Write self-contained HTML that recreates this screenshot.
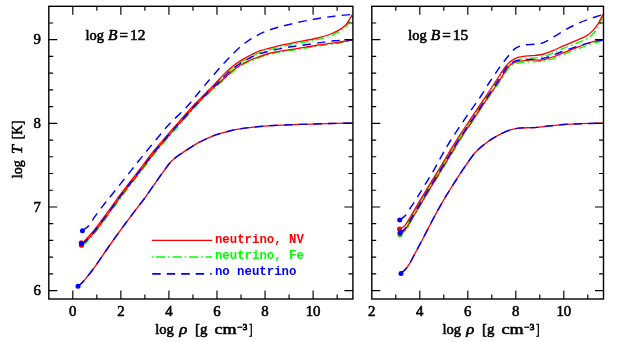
<!DOCTYPE html>
<html><head><meta charset="utf-8"><title>chart</title>
<style>
html,body{margin:0;padding:0;background:#fff;}
body{width:623px;height:342px;position:relative;overflow:hidden;}
svg{display:block;will-change:transform;}
text{font-family:"Liberation Serif",serif;}
text.s{fill:#000;stroke:#000;stroke-width:0.55px;}
text.sb{stroke-width:0.8px;}
text.m{font-family:"Liberation Mono",monospace;font-weight:bold;}
text.r{fill:#f00;} text.g{fill:#0f0;} text.b{fill:#00f;}
</style></head><body>
<svg width="623" height="342" viewBox="0 0 623 342" style="position:absolute;left:0;top:0">
<defs><clipPath id="c1"><rect x="48.8" y="6.3" width="304.6" height="292.7"/></clipPath><clipPath id="c2"><rect x="371.8" y="6.3" width="232.2" height="292.7"/></clipPath></defs>
<g clip-path="url(#c1)">
<path d="M81.82,244.82 C82.51,244.25 84.12,243.22 85.97,241.37 C87.82,239.52 90.43,236.72 92.92,233.72 C95.41,230.72 97.94,227.29 100.90,223.35 C103.86,219.41 107.64,214.24 110.69,210.06 C113.74,205.88 115.70,202.95 119.20,198.25 C122.70,193.55 127.72,187.05 131.70,181.84 C135.69,176.64 139.35,171.93 143.11,167.04 C146.86,162.16 149.71,158.07 154.22,152.53 C158.72,146.99 165.48,139.18 170.13,133.81 C174.79,128.44 178.00,124.94 182.14,120.30 C186.28,115.66 190.57,110.66 194.95,105.99 C199.34,101.32 204.87,95.89 208.47,92.27 C212.06,88.66 214.05,86.83 216.50,84.30 C218.95,81.77 220.57,79.68 223.15,77.10 C225.73,74.52 229.06,71.25 232.00,68.80 C234.94,66.35 237.87,64.30 240.80,62.40 C243.73,60.50 246.65,58.93 249.60,57.40 C252.55,55.87 255.20,54.45 258.50,53.20 C261.80,51.95 265.15,51.07 269.40,49.90 C273.65,48.73 279.13,47.30 284.00,46.20 C288.87,45.10 293.25,44.33 298.60,43.30 C303.95,42.27 310.88,41.22 316.10,40.00 C321.32,38.78 325.95,37.43 329.90,36.00 C333.85,34.57 337.03,33.03 339.80,31.40 C342.57,29.77 344.83,27.93 346.50,26.20 C348.17,24.47 348.75,22.67 349.80,21.00 C350.85,19.33 352.30,17.00 352.80,16.20" fill="none" stroke="#00ff00" stroke-width="1.3" stroke-dasharray="8 3.3 1.5 3.3" stroke-linecap="butt" stroke-linejoin="round"/>
<path d="M82.58,245.38 C83.29,244.79 84.95,243.71 86.83,241.83 C88.71,239.95 91.37,237.11 93.88,234.08 C96.39,231.05 98.93,227.61 101.90,223.65 C104.87,219.69 108.66,214.53 111.71,210.34 C114.76,206.16 116.70,203.25 120.20,198.55 C123.70,193.85 128.71,187.35 132.70,182.16 C136.68,176.96 140.35,172.24 144.09,167.36 C147.84,162.48 150.69,158.40 155.18,152.87 C159.68,147.35 166.42,139.55 171.07,134.19 C175.71,128.83 178.93,125.33 183.06,120.70 C187.19,116.07 191.47,111.08 195.85,106.41 C200.23,101.75 205.68,96.25 209.33,92.73 C212.99,89.21 215.53,87.30 217.80,85.30 C220.07,83.30 220.62,82.83 222.95,80.70 C225.28,78.57 228.86,74.93 231.80,72.50 C234.74,70.07 237.67,67.93 240.60,66.10 C243.53,64.27 246.45,62.85 249.40,61.50 C252.35,60.15 255.00,59.18 258.30,58.00 C261.60,56.82 264.95,55.48 269.20,54.40 C273.45,53.32 278.93,52.35 283.80,51.50 C288.67,50.65 293.05,50.15 298.40,49.30 C303.75,48.45 309.87,47.32 315.90,46.40 C321.93,45.48 328.48,44.73 334.60,43.80 C340.72,42.87 349.60,41.30 352.60,40.80" fill="none" stroke="#00ff00" stroke-width="1.3" stroke-dasharray="8 3.3 1.5 3.3" stroke-linecap="butt" stroke-linejoin="round"/>
<path d="M81.32,243.32 C82.01,242.75 83.62,241.72 85.47,239.87 C87.32,238.02 89.93,235.22 92.42,232.22 C94.91,229.22 97.44,225.79 100.40,221.85 C103.36,217.91 107.14,212.74 110.19,208.56 C113.24,204.38 115.20,201.45 118.70,196.75 C122.20,192.05 127.22,185.55 131.20,180.34 C135.19,175.14 138.85,170.43 142.61,165.54 C146.36,160.66 149.21,156.57 153.72,151.03 C158.22,145.49 164.98,137.68 169.63,132.31 C174.29,126.94 177.50,123.44 181.64,118.80 C185.78,114.16 190.07,109.16 194.45,104.49 C198.84,99.82 204.37,94.39 207.97,90.77 C211.56,87.16 213.55,85.33 216.00,82.80 C218.45,80.27 220.07,78.18 222.65,75.60 C225.23,73.02 228.56,69.75 231.50,67.30 C234.44,64.85 237.37,62.80 240.30,60.90 C243.23,59.00 246.15,57.43 249.10,55.90 C252.05,54.37 254.70,52.95 258.00,51.70 C261.30,50.45 264.65,49.57 268.90,48.40 C273.15,47.23 278.63,45.80 283.50,44.70 C288.37,43.60 292.75,42.83 298.10,41.80 C303.45,40.77 310.38,39.72 315.60,38.50 C320.82,37.28 325.45,35.93 329.40,34.50 C333.35,33.07 336.53,31.53 339.30,29.90 C342.07,28.27 344.33,26.43 346.00,24.70 C347.67,22.97 348.25,21.17 349.30,19.50 C350.35,17.83 351.80,15.50 352.30,14.70" fill="none" stroke="#ff0000" stroke-width="1.3" stroke-linecap="butt" stroke-linejoin="round"/>
<path d="M82.28,244.48 C82.99,243.89 84.65,242.81 86.53,240.93 C88.41,239.05 91.07,236.21 93.58,233.18 C96.09,230.15 98.63,226.71 101.60,222.75 C104.57,218.79 108.36,213.63 111.41,209.44 C114.46,205.26 116.40,202.35 119.90,197.65 C123.40,192.95 128.41,186.45 132.40,181.26 C136.38,176.06 140.05,171.34 143.79,166.46 C147.54,161.58 150.39,157.50 154.88,151.97 C159.38,146.45 166.12,138.65 170.77,133.29 C175.41,127.93 178.63,124.43 182.76,119.80 C186.89,115.17 191.17,110.18 195.55,105.51 C199.93,100.85 205.38,95.35 209.03,91.83 C212.69,88.31 215.23,86.40 217.50,84.40 C219.77,82.40 220.32,81.93 222.65,79.80 C224.98,77.67 228.56,74.03 231.50,71.60 C234.44,69.17 237.37,67.03 240.30,65.20 C243.23,63.37 246.15,61.95 249.10,60.60 C252.05,59.25 254.70,58.28 258.00,57.10 C261.30,55.92 264.65,54.58 268.90,53.50 C273.15,52.42 278.63,51.45 283.50,50.60 C288.37,49.75 292.75,49.25 298.10,48.40 C303.45,47.55 309.57,46.42 315.60,45.50 C321.63,44.58 328.18,43.83 334.30,42.90 C340.42,41.97 349.30,40.40 352.30,39.90" fill="none" stroke="#ff0000" stroke-width="1.3" stroke-linecap="butt" stroke-linejoin="round"/>
<path d="M81.93,244.05 C82.63,243.47 84.27,242.41 86.14,240.54 C88.01,238.67 90.65,235.85 93.15,232.83 C95.66,229.81 98.19,226.37 101.16,222.42 C104.13,218.47 107.91,213.30 110.96,209.12 C114.01,204.93 115.96,202.02 119.46,197.32 C122.96,192.62 127.98,186.12 131.96,180.92 C135.94,175.72 139.61,171.00 143.36,166.12 C147.11,161.24 149.96,157.16 154.46,151.63 C158.95,146.09 165.70,138.30 170.35,132.93 C175.00,127.57 178.22,124.07 182.35,119.43 C186.48,114.80 190.76,109.80 195.15,105.14 C199.53,100.47 205.00,95.03 208.64,91.44 C212.28,87.85 214.67,85.81 217.00,83.60 C219.33,81.39 220.23,80.50 222.65,78.20 C225.07,75.90 228.56,72.28 231.50,69.80 C234.44,67.32 237.37,65.20 240.30,63.30 C243.23,61.40 246.15,59.90 249.10,58.40 C252.05,56.90 254.70,55.50 258.00,54.30 C261.30,53.10 264.65,52.23 268.90,51.20 C273.15,50.17 278.63,49.00 283.50,48.10 C288.37,47.20 292.75,46.60 298.10,45.80 C303.45,45.00 309.62,44.13 315.60,43.30 C321.58,42.47 327.88,41.37 334.00,40.80 C340.12,40.23 349.25,40.05 352.30,39.90" fill="none" stroke="#0000ff" stroke-width="1.45" stroke-dasharray="8.4 6.2" stroke-linecap="butt" stroke-linejoin="round"/>
<path d="M78.00,286.20 C78.67,285.63 80.66,284.13 82.00,282.80 C83.34,281.47 84.23,280.42 86.05,278.20 C87.87,275.98 91.14,271.82 92.90,269.50 C94.66,267.18 93.77,268.38 96.60,264.30 C99.43,260.22 105.18,251.68 109.90,245.00 C114.62,238.32 120.57,230.10 124.90,224.20 C129.23,218.30 132.52,214.05 135.90,209.60 C139.28,205.15 141.60,202.47 145.20,197.50 C148.80,192.53 153.70,185.17 157.50,179.80 C161.30,174.43 165.62,168.47 168.00,165.30 C170.38,162.13 170.38,162.20 171.80,160.80 C173.22,159.40 174.63,158.30 176.50,156.90 C178.37,155.50 180.75,153.90 183.00,152.40 C185.25,150.90 187.42,149.52 190.00,147.90 C192.58,146.28 194.65,144.70 198.50,142.70 C202.35,140.70 208.68,137.65 213.10,135.90 C217.52,134.15 220.55,133.38 225.00,132.20 C229.45,131.02 233.18,129.82 239.80,128.80 C246.42,127.78 254.75,126.83 264.70,126.10 C274.65,125.37 288.62,124.83 299.50,124.40 C310.38,123.97 321.20,123.72 330.00,123.50 C338.80,123.28 348.58,123.17 352.30,123.10" fill="none" stroke="#ff0000" stroke-width="1.3" stroke-linecap="butt" stroke-linejoin="round"/>
<path d="M78.00,286.20 C78.67,285.63 80.66,284.13 82.00,282.80 C83.34,281.47 84.23,280.42 86.05,278.20 C87.87,275.98 91.14,271.82 92.90,269.50 C94.66,267.18 93.77,268.38 96.60,264.30 C99.43,260.22 105.18,251.68 109.90,245.00 C114.62,238.32 120.57,230.10 124.90,224.20 C129.23,218.30 132.52,214.05 135.90,209.60 C139.28,205.15 141.60,202.47 145.20,197.50 C148.80,192.53 153.70,185.17 157.50,179.80 C161.30,174.43 165.62,168.47 168.00,165.30 C170.38,162.13 170.38,162.20 171.80,160.80 C173.22,159.40 174.63,158.30 176.50,156.90 C178.37,155.50 180.75,153.90 183.00,152.40 C185.25,150.90 187.42,149.52 190.00,147.90 C192.58,146.28 194.65,144.70 198.50,142.70 C202.35,140.70 208.68,137.65 213.10,135.90 C217.52,134.15 220.55,133.38 225.00,132.20 C229.45,131.02 233.18,129.82 239.80,128.80 C246.42,127.78 254.75,126.83 264.70,126.10 C274.65,125.37 288.62,124.83 299.50,124.40 C310.38,123.97 321.20,123.72 330.00,123.50 C338.80,123.28 348.58,123.17 352.30,123.10" fill="none" stroke="#0000ff" stroke-width="1.45" stroke-dasharray="8.4 6.2" stroke-linecap="butt" stroke-linejoin="round"/>
<path d="M82.40,230.60 C83.50,229.77 86.97,227.88 89.00,225.60 C91.03,223.32 91.85,220.75 94.60,216.90 C97.35,213.05 102.67,206.15 105.50,202.50 C108.33,198.85 107.52,200.10 111.60,195.00 C115.68,189.90 125.50,177.57 130.00,171.90 C134.50,166.23 135.72,164.60 138.60,161.00 C141.48,157.40 143.57,154.85 147.30,150.30 C151.03,145.75 157.32,138.08 161.00,133.70 C164.68,129.32 164.83,128.78 169.40,124.00 C173.97,119.22 182.55,111.40 188.40,105.00 C194.25,98.60 198.42,92.73 204.50,85.60 C210.58,78.47 218.18,69.27 224.90,62.20 C231.62,55.13 238.17,48.27 244.80,43.20 C251.43,38.13 257.67,34.83 264.70,31.80 C271.73,28.77 279.12,27.03 287.00,25.00 C294.88,22.97 304.12,21.07 312.00,19.60 C319.88,18.13 327.58,17.07 334.30,16.20 C341.02,15.33 349.30,14.70 352.30,14.40" fill="none" stroke="#0000ff" stroke-width="1.45" stroke-dasharray="8.4 6.2" stroke-linecap="butt" stroke-linejoin="round"/>
</g>
<circle cx="81.4" cy="245.2" r="2.5" fill="#00ff00"/>
<circle cx="81.5" cy="245.3" r="2.5" fill="#ff0000"/>
<circle cx="81.2" cy="242.7" r="2.5" fill="#ff0000"/>
<circle cx="81.5" cy="243.8" r="2.5" fill="#0000ff"/>
<circle cx="82.4" cy="230.7" r="2.5" fill="#0000ff"/>
<circle cx="78.0" cy="286.2" r="2.5" fill="#0000ff"/>
<g clip-path="url(#c2)">
<path d="M399.90,235.30 C400.45,234.75 402.05,233.32 403.20,232.00 C404.35,230.68 405.65,229.57 406.80,227.40 C407.95,225.23 408.13,222.81 410.11,218.97 C412.10,215.13 415.83,209.24 418.71,204.37 C421.60,199.50 423.83,195.67 427.42,189.77 C431.00,183.87 436.62,174.87 440.22,168.97 C443.82,163.07 446.08,159.24 449.01,154.37 C451.95,149.50 456.35,142.19 457.82,139.76" fill="none" stroke="#00ff00" stroke-width="1.0" stroke-linecap="butt" stroke-linejoin="round"/>
<path d="M399.90,235.30 C400.45,234.75 402.05,233.32 403.20,232.00 C404.35,230.68 405.65,229.57 406.80,227.40 C407.95,225.23 408.13,222.81 410.11,218.97 C412.10,215.13 415.83,209.24 418.71,204.37 C421.60,199.50 423.83,195.67 427.42,189.77 C431.00,183.87 436.62,174.87 440.22,168.97 C443.82,163.07 446.08,159.24 449.01,154.37 C451.95,149.50 454.04,145.66 457.82,139.76 C461.61,133.85 467.79,124.85 471.73,118.95 C475.66,113.05 478.73,108.38 481.43,104.35 C484.13,100.32 485.43,98.56 487.93,94.75 C490.42,90.94 493.39,86.06 496.40,81.50 C499.41,76.94 503.57,70.42 506.00,67.40 C508.43,64.38 509.42,64.50 511.00,63.40 C512.58,62.30 514.08,61.47 515.50,60.80 C516.92,60.13 518.17,59.73 519.50,59.40 C520.83,59.07 521.92,58.98 523.50,58.80 C525.08,58.62 527.05,58.45 529.00,58.30 C530.95,58.15 532.72,58.22 535.20,57.90 C537.68,57.58 540.95,57.23 543.90,56.40 C546.85,55.57 549.65,54.25 552.90,52.90 C556.15,51.55 559.45,49.92 563.40,48.30 C567.35,46.68 572.82,44.73 576.60,43.20 C580.38,41.67 583.43,40.60 586.10,39.10 C588.77,37.60 590.63,36.12 592.60,34.20 C594.57,32.28 596.50,29.77 597.90,27.60 C599.30,25.43 600.15,23.00 601.00,21.20 C601.85,19.40 602.67,17.53 603.00,16.80" fill="none" stroke="#00ff00" stroke-width="1.3" stroke-dasharray="8 3.3 1.5 3.3" stroke-linecap="butt" stroke-linejoin="round"/>
<path d="M399.90,235.30 C400.52,234.82 402.32,233.62 403.60,232.40 C404.88,231.18 406.22,230.06 407.60,228.00 C408.98,225.94 409.73,223.78 411.88,220.01 C414.02,216.25 417.60,210.28 420.48,205.42 C423.36,200.55 425.59,196.73 429.17,190.83 C432.75,184.93 438.37,175.93 441.97,170.03 C445.57,164.13 447.84,160.29 450.77,155.43 C453.70,150.56 455.77,146.75 459.55,140.86 C463.32,134.97 469.50,125.98 473.43,120.09 C477.36,114.19 480.43,109.52 483.13,105.49 C485.83,101.46 486.86,99.85 489.62,95.90 C492.39,91.95 496.49,86.47 499.70,81.80 C502.91,77.13 506.85,70.62 508.90,67.90 C510.95,65.18 510.98,66.15 512.00,65.50 C513.02,64.85 513.92,64.42 515.00,64.00 C516.08,63.58 517.08,63.27 518.50,63.00 C519.92,62.73 521.75,62.57 523.50,62.40 C525.25,62.23 526.57,62.17 529.00,62.00 C531.43,61.83 535.12,61.65 538.10,61.40 C541.08,61.15 543.98,61.13 546.90,60.50 C549.82,59.87 552.85,58.62 555.60,57.60 C558.35,56.58 559.90,55.77 563.40,54.40 C566.90,53.03 572.82,50.83 576.60,49.40 C580.38,47.97 583.20,46.87 586.10,45.80 C589.00,44.73 591.18,43.80 594.00,43.00 C596.82,42.20 601.50,41.33 603.00,41.00" fill="none" stroke="#00ff00" stroke-width="1.3" stroke-dasharray="8 3.3 1.5 3.3" stroke-linecap="butt" stroke-linejoin="round"/>
<path d="M399.50,229.20 C400.00,228.93 401.48,228.37 402.50,227.60 C403.52,226.83 404.46,226.11 405.60,224.60 C406.74,223.09 407.28,221.96 409.34,218.51 C411.39,215.07 415.05,208.78 417.94,203.91 C420.82,199.04 423.06,195.20 426.65,189.30 C430.23,183.40 435.85,174.40 439.45,168.50 C443.05,162.60 445.31,158.77 448.24,153.90 C451.18,149.03 453.27,145.18 457.06,139.27 C460.85,133.36 467.04,124.35 470.98,118.45 C474.91,112.55 477.98,107.88 480.68,103.85 C483.38,99.81 484.70,97.97 487.18,94.24 C489.67,90.52 492.60,86.06 495.60,81.50 C498.60,76.94 502.80,70.15 505.20,66.90 C507.60,63.65 508.42,63.33 510.00,62.00 C511.58,60.67 513.25,59.70 514.70,58.90 C516.15,58.10 517.23,57.63 518.70,57.20 C520.17,56.77 521.78,56.53 523.50,56.30 C525.22,56.07 527.05,55.95 529.00,55.80 C530.95,55.65 532.72,55.70 535.20,55.40 C537.68,55.10 540.95,54.80 543.90,54.00 C546.85,53.20 549.65,51.95 552.90,50.60 C556.15,49.25 559.45,47.60 563.40,45.90 C567.35,44.20 572.82,42.03 576.60,40.40 C580.38,38.77 583.43,37.68 586.10,36.10 C588.77,34.52 590.63,32.88 592.60,30.90 C594.57,28.92 596.53,26.25 597.90,24.20 C599.27,22.15 599.95,20.23 600.80,18.60 C601.65,16.97 602.63,15.10 603.00,14.40" fill="none" stroke="#ff0000" stroke-width="1.3" stroke-linecap="butt" stroke-linejoin="round"/>
<path d="M399.90,233.20 C400.45,232.87 402.02,232.20 403.20,231.20 C404.38,230.20 405.63,229.11 407.00,227.20 C408.37,225.29 409.27,223.43 411.45,219.76 C413.62,216.09 417.16,210.03 420.05,205.16 C422.93,200.30 425.16,196.47 428.74,190.57 C432.32,184.67 437.94,175.67 441.54,169.77 C445.14,163.87 447.41,160.03 450.34,155.17 C453.27,150.30 455.35,146.49 459.13,140.59 C462.90,134.70 469.08,125.71 473.02,119.81 C476.95,113.91 480.01,109.24 482.71,105.21 C485.41,101.18 486.51,99.57 489.21,95.62 C491.91,91.66 495.75,86.29 498.90,81.50 C502.05,76.71 506.00,69.78 508.10,66.90 C510.20,64.02 510.40,64.93 511.50,64.20 C512.60,63.47 513.62,62.97 514.70,62.50 C515.78,62.03 516.78,61.68 518.00,61.40 C519.22,61.12 520.33,60.98 522.00,60.80 C523.67,60.62 525.80,60.45 528.00,60.30 C530.20,60.15 533.03,59.92 535.20,59.90 C537.37,59.88 539.05,60.38 541.00,60.20 C542.95,60.02 544.47,59.50 546.90,58.80 C549.33,58.10 552.85,57.03 555.60,56.00 C558.35,54.97 559.90,54.00 563.40,52.60 C566.90,51.20 572.82,49.03 576.60,47.60 C580.38,46.17 583.20,45.03 586.10,44.00 C589.00,42.97 591.18,42.12 594.00,41.40 C596.82,40.68 601.50,39.98 603.00,39.70" fill="none" stroke="#ff0000" stroke-width="1.3" stroke-linecap="butt" stroke-linejoin="round"/>
<path d="M399.90,232.40 C400.42,232.07 401.88,231.37 403.00,230.40 C404.12,229.43 405.31,228.44 406.60,226.60 C407.89,224.76 408.63,222.99 410.76,219.35 C412.88,215.71 416.48,209.62 419.36,204.75 C422.24,199.89 424.47,196.06 428.06,190.16 C431.64,184.26 437.26,175.26 440.86,169.36 C444.46,163.46 446.72,159.62 449.66,154.75 C452.59,149.89 454.67,146.06 458.45,140.16 C462.23,134.26 468.42,125.27 472.35,119.37 C476.28,113.47 479.35,108.80 482.05,104.77 C484.75,100.73 485.94,99.05 488.55,95.17 C491.16,91.29 494.62,86.21 497.70,81.50 C500.78,76.79 504.87,69.88 507.00,66.90 C509.13,63.92 509.33,64.48 510.50,63.60 C511.67,62.72 512.75,62.13 514.00,61.60 C515.25,61.07 516.50,60.70 518.00,60.40 C519.50,60.10 520.87,59.97 523.00,59.80 C525.13,59.63 528.30,59.50 530.80,59.40 C533.30,59.30 535.32,59.53 538.00,59.20 C540.68,58.87 544.40,58.07 546.90,57.40 C549.40,56.73 550.68,56.10 553.00,55.20 C555.32,54.30 556.87,53.43 560.80,52.00 C564.73,50.57 571.73,48.17 576.60,46.60 C581.47,45.03 585.60,43.75 590.00,42.60 C594.40,41.45 600.83,40.18 603.00,39.70" fill="none" stroke="#0000ff" stroke-width="1.45" stroke-dasharray="8.4 6.2" stroke-linecap="butt" stroke-linejoin="round"/>
<path d="M401.00,273.40 C401.67,272.78 403.62,271.25 405.00,269.70 C406.38,268.15 407.55,266.97 409.30,264.10 C411.05,261.23 413.35,256.52 415.50,252.50 C417.65,248.48 419.28,245.55 422.20,240.00 C425.12,234.45 429.87,225.10 433.00,219.20 C436.13,213.30 438.20,209.47 441.00,204.60 C443.80,199.73 446.10,195.90 449.80,190.00 C453.50,184.10 459.30,175.03 463.20,169.20 C467.10,163.37 470.58,158.38 473.20,155.00 C475.82,151.62 476.85,150.83 478.90,148.90 C480.95,146.97 483.32,145.07 485.50,143.40 C487.68,141.73 489.35,140.52 492.00,138.90 C494.65,137.28 498.37,135.20 501.40,133.70 C504.43,132.20 507.28,130.83 510.20,129.90 C513.12,128.97 515.50,128.47 518.90,128.10 C522.30,127.73 527.60,127.82 530.60,127.70 C533.60,127.58 533.42,127.73 536.90,127.40 C540.38,127.07 546.62,126.22 551.50,125.70 C556.38,125.18 561.32,124.63 566.20,124.30 C571.08,123.97 574.67,123.90 580.80,123.70 C586.93,123.50 599.30,123.20 603.00,123.10" fill="none" stroke="#ff0000" stroke-width="1.3" stroke-linecap="butt" stroke-linejoin="round"/>
<path d="M401.00,273.40 C401.67,272.78 403.62,271.25 405.00,269.70 C406.38,268.15 407.55,266.97 409.30,264.10 C411.05,261.23 413.35,256.52 415.50,252.50 C417.65,248.48 419.28,245.55 422.20,240.00 C425.12,234.45 429.87,225.10 433.00,219.20 C436.13,213.30 438.20,209.47 441.00,204.60 C443.80,199.73 446.10,195.90 449.80,190.00 C453.50,184.10 459.30,175.03 463.20,169.20 C467.10,163.37 470.58,158.38 473.20,155.00 C475.82,151.62 476.85,150.83 478.90,148.90 C480.95,146.97 483.32,145.07 485.50,143.40 C487.68,141.73 489.35,140.52 492.00,138.90 C494.65,137.28 498.37,135.20 501.40,133.70 C504.43,132.20 507.28,130.83 510.20,129.90 C513.12,128.97 515.50,128.47 518.90,128.10 C522.30,127.73 527.60,127.82 530.60,127.70 C533.60,127.58 533.42,127.73 536.90,127.40 C540.38,127.07 546.62,126.22 551.50,125.70 C556.38,125.18 561.32,124.63 566.20,124.30 C571.08,123.97 574.67,123.90 580.80,123.70 C586.93,123.50 599.30,123.20 603.00,123.10" fill="none" stroke="#0000ff" stroke-width="1.45" stroke-dasharray="8.4 6.2" stroke-linecap="butt" stroke-linejoin="round"/>
<path d="M399.80,220.00 C400.73,219.27 403.75,217.43 405.40,215.60 C407.05,213.77 408.25,211.20 409.70,209.00 C411.15,206.80 412.75,204.47 414.10,202.40 C415.45,200.33 416.57,198.58 417.80,196.60 C419.03,194.62 418.80,194.97 421.50,190.50 C424.20,186.03 430.53,175.78 434.00,169.80 C437.47,163.82 439.48,159.57 442.30,154.60 C445.12,149.63 447.17,145.90 450.90,140.00 C454.63,134.10 460.70,125.10 464.70,119.20 C468.70,113.30 472.08,108.63 474.90,104.60 C477.72,100.57 479.08,98.85 481.60,95.00 C484.12,91.15 486.93,86.18 490.00,81.50 C493.07,76.82 496.85,71.28 500.00,66.90 C503.15,62.52 506.45,58.20 508.90,55.20 C511.35,52.20 512.75,50.45 514.70,48.90 C516.65,47.35 518.62,46.60 520.60,45.90 C522.58,45.20 524.28,44.97 526.60,44.70 C528.92,44.43 532.10,44.50 534.50,44.30 C536.90,44.10 538.82,44.12 541.00,43.50 C543.18,42.88 544.30,42.43 547.60,40.60 C550.90,38.77 556.42,35.05 560.80,32.50 C565.18,29.95 569.57,27.40 573.90,25.30 C578.23,23.20 581.95,21.72 586.80,19.90 C591.65,18.08 600.30,15.32 603.00,14.40" fill="none" stroke="#0000ff" stroke-width="1.45" stroke-dasharray="8.4 6.2" stroke-linecap="butt" stroke-linejoin="round"/>
</g>
<circle cx="400.0" cy="234.7" r="2.5" fill="#00ff00"/>
<circle cx="400.0" cy="233.7" r="2.5" fill="#ff0000"/>
<circle cx="399.5" cy="229.0" r="2.5" fill="#ff0000"/>
<circle cx="400.1" cy="232.4" r="2.5" fill="#0000ff"/>
<circle cx="399.7" cy="220.1" r="2.5" fill="#0000ff"/>
<circle cx="401.0" cy="273.4" r="2.5" fill="#0000ff"/>
<g stroke="#000" stroke-width="1.15" fill="none" stroke-linecap="butt">
<rect x="48.80" y="6.30" width="304.10" height="292.70" stroke-width="1.4"/>
<rect x="371.80" y="6.30" width="231.70" height="292.70" stroke-width="1.4"/>
<path d="M72.80,6.30v8.50 M72.80,299.00v-8.50 M96.83,6.30v4.40 M96.83,299.00v-4.40 M120.86,6.30v8.50 M120.86,299.00v-8.50 M144.89,6.30v4.40 M144.89,299.00v-4.40 M168.92,6.30v8.50 M168.92,299.00v-8.50 M192.95,6.30v4.40 M192.95,299.00v-4.40 M216.98,6.30v8.50 M216.98,299.00v-8.50 M241.01,6.30v4.40 M241.01,299.00v-4.40 M265.04,6.30v8.50 M265.04,299.00v-8.50 M289.07,6.30v4.40 M289.07,299.00v-4.40 M313.10,6.30v8.50 M313.10,299.00v-8.50 M337.13,6.30v4.40 M337.13,299.00v-4.40 M395.80,6.30v4.40 M395.80,299.00v-4.40 M419.80,6.30v8.50 M419.80,299.00v-8.50 M443.80,6.30v4.40 M443.80,299.00v-4.40 M467.80,6.30v8.50 M467.80,299.00v-8.50 M491.80,6.30v4.40 M491.80,299.00v-4.40 M515.80,6.30v8.50 M515.80,299.00v-8.50 M539.80,6.30v4.40 M539.80,299.00v-4.40 M563.80,6.30v8.50 M563.80,299.00v-8.50 M587.80,6.30v4.40 M587.80,299.00v-4.40 M48.80,290.60h8.50 M352.90,290.60h-8.50 M371.80,290.60h8.50 M603.50,290.60h-8.50 M48.80,273.87h4.40 M352.90,273.87h-4.40 M371.80,273.87h4.40 M603.50,273.87h-4.40 M48.80,257.14h4.40 M352.90,257.14h-4.40 M371.80,257.14h4.40 M603.50,257.14h-4.40 M48.80,240.42h4.40 M352.90,240.42h-4.40 M371.80,240.42h4.40 M603.50,240.42h-4.40 M48.80,223.69h4.40 M352.90,223.69h-4.40 M371.80,223.69h4.40 M603.50,223.69h-4.40 M48.80,206.96h8.50 M352.90,206.96h-8.50 M371.80,206.96h8.50 M603.50,206.96h-8.50 M48.80,190.23h4.40 M352.90,190.23h-4.40 M371.80,190.23h4.40 M603.50,190.23h-4.40 M48.80,173.50h4.40 M352.90,173.50h-4.40 M371.80,173.50h4.40 M603.50,173.50h-4.40 M48.80,156.78h4.40 M352.90,156.78h-4.40 M371.80,156.78h4.40 M603.50,156.78h-4.40 M48.80,140.05h4.40 M352.90,140.05h-4.40 M371.80,140.05h4.40 M603.50,140.05h-4.40 M48.80,123.32h8.50 M352.90,123.32h-8.50 M371.80,123.32h8.50 M603.50,123.32h-8.50 M48.80,106.59h4.40 M352.90,106.59h-4.40 M371.80,106.59h4.40 M603.50,106.59h-4.40 M48.80,89.86h4.40 M352.90,89.86h-4.40 M371.80,89.86h4.40 M603.50,89.86h-4.40 M48.80,73.14h4.40 M352.90,73.14h-4.40 M371.80,73.14h4.40 M603.50,73.14h-4.40 M48.80,56.41h4.40 M352.90,56.41h-4.40 M371.80,56.41h4.40 M603.50,56.41h-4.40 M48.80,39.68h8.50 M352.90,39.68h-8.50 M371.80,39.68h8.50 M603.50,39.68h-8.50 M48.80,22.95h4.40 M352.90,22.95h-4.40 M371.80,22.95h4.40 M603.50,22.95h-4.40 "/>
</g>
<path d="M151.9,240.3H212.2" stroke="#ff0000" stroke-width="1.35"/>
<path d="M151.7,257.0H212.2" stroke="#00ff00" stroke-width="1.35" stroke-dasharray="1.5 2.9 9.2 2.9" />
<path d="M152.2,273.8H211.7" stroke="#0000ff" stroke-width="1.7" stroke-dasharray="8.5 6"/>
<text class="s" x="72.80" y="315.80" font-size="14.0" text-anchor="middle" textLength="7.40" lengthAdjust="spacingAndGlyphs">0</text>
<text class="s" x="120.86" y="315.80" font-size="14.0" text-anchor="middle" textLength="7.40" lengthAdjust="spacingAndGlyphs">2</text>
<text class="s" x="168.92" y="315.80" font-size="14.0" text-anchor="middle" textLength="7.40" lengthAdjust="spacingAndGlyphs">4</text>
<text class="s" x="216.98" y="315.80" font-size="14.0" text-anchor="middle" textLength="7.40" lengthAdjust="spacingAndGlyphs">6</text>
<text class="s" x="265.04" y="315.80" font-size="14.0" text-anchor="middle" textLength="7.40" lengthAdjust="spacingAndGlyphs">8</text>
<text class="s" x="313.10" y="315.80" font-size="14.0" text-anchor="middle" textLength="14.80" lengthAdjust="spacingAndGlyphs">10</text>
<text class="s" x="371.80" y="315.80" font-size="14.0" text-anchor="middle" textLength="7.40" lengthAdjust="spacingAndGlyphs">2</text>
<text class="s" x="419.80" y="315.80" font-size="14.0" text-anchor="middle" textLength="7.40" lengthAdjust="spacingAndGlyphs">4</text>
<text class="s" x="467.80" y="315.80" font-size="14.0" text-anchor="middle" textLength="7.40" lengthAdjust="spacingAndGlyphs">6</text>
<text class="s" x="515.80" y="315.80" font-size="14.0" text-anchor="middle" textLength="7.40" lengthAdjust="spacingAndGlyphs">8</text>
<text class="s" x="563.80" y="315.80" font-size="14.0" text-anchor="middle" textLength="14.80" lengthAdjust="spacingAndGlyphs">10</text>
<text class="s" x="41.00" y="295.40" font-size="14.0" text-anchor="end" textLength="7.40" lengthAdjust="spacingAndGlyphs">6</text>
<text class="s" x="41.00" y="211.76" font-size="14.0" text-anchor="end" textLength="7.40" lengthAdjust="spacingAndGlyphs">7</text>
<text class="s" x="41.00" y="128.12" font-size="14.0" text-anchor="end" textLength="7.40" lengthAdjust="spacingAndGlyphs">8</text>
<text class="s" x="41.00" y="44.48" font-size="14.0" text-anchor="end" textLength="7.40" lengthAdjust="spacingAndGlyphs">9</text>
<text class="s" x="155.30" y="333.60" font-size="14.0" textLength="18.60" lengthAdjust="spacingAndGlyphs">log</text>
<text class="s" x="179.20" y="333.60" font-size="14.0" font-style="italic" textLength="8.00" lengthAdjust="spacingAndGlyphs">ρ</text>
<text class="s" x="195.00" y="333.60" font-size="14.0" textLength="12.40" lengthAdjust="spacingAndGlyphs">[g</text>
<text class="s" x="214.50" y="333.60" font-size="14.0" textLength="22.10" lengthAdjust="spacingAndGlyphs">cm</text>
<text class="s sb" x="237.50" y="329.60" font-size="8.8" textLength="9.70" lengthAdjust="spacingAndGlyphs">−3</text>
<text class="s" x="249.00" y="333.60" font-size="14.0" textLength="3.60" lengthAdjust="spacingAndGlyphs">]</text>
<text class="s" x="442.40" y="333.60" font-size="14.0" textLength="18.60" lengthAdjust="spacingAndGlyphs">log</text>
<text class="s" x="466.30" y="333.60" font-size="14.0" font-style="italic" textLength="8.00" lengthAdjust="spacingAndGlyphs">ρ</text>
<text class="s" x="482.10" y="333.60" font-size="14.0" textLength="12.40" lengthAdjust="spacingAndGlyphs">[g</text>
<text class="s" x="501.60" y="333.60" font-size="14.0" textLength="22.10" lengthAdjust="spacingAndGlyphs">cm</text>
<text class="s sb" x="524.60" y="329.60" font-size="8.8" textLength="9.70" lengthAdjust="spacingAndGlyphs">−3</text>
<text class="s" x="536.10" y="333.60" font-size="14.0" textLength="3.60" lengthAdjust="spacingAndGlyphs">]</text>
<text class="s" transform="translate(22.00,178.20) rotate(-90)" x="0" y="0" font-size="14.0" textLength="18.00" lengthAdjust="spacingAndGlyphs">log</text>
<text class="s" transform="translate(22.00,153.90) rotate(-90)" x="0" y="0" font-size="14.0" font-style="italic" textLength="8.90" lengthAdjust="spacingAndGlyphs">T</text>
<text class="s" transform="translate(22.00,139.20) rotate(-90)" x="0" y="0" font-size="14.0" textLength="18.70" lengthAdjust="spacingAndGlyphs">[K]</text>
<text class="s" x="85.50" y="39.70" font-size="13.6" textLength="18.50" lengthAdjust="spacingAndGlyphs">log</text>
<text class="s" x="108.00" y="39.70" font-size="13.6" font-style="italic" textLength="9.50" lengthAdjust="spacingAndGlyphs">B</text>
<text class="s" x="119.50" y="39.70" font-size="13.6" textLength="8.50" lengthAdjust="spacingAndGlyphs">=</text>
<text class="s" x="130.00" y="39.70" font-size="13.6" textLength="15.40" lengthAdjust="spacingAndGlyphs">12</text>
<text class="s" x="408.20" y="39.70" font-size="13.6" textLength="18.50" lengthAdjust="spacingAndGlyphs">log</text>
<text class="s" x="430.70" y="39.70" font-size="13.6" font-style="italic" textLength="9.50" lengthAdjust="spacingAndGlyphs">B</text>
<text class="s" x="442.20" y="39.70" font-size="13.6" textLength="8.50" lengthAdjust="spacingAndGlyphs">=</text>
<text class="s" x="452.70" y="39.70" font-size="13.6" textLength="15.40" lengthAdjust="spacingAndGlyphs">15</text>
<text class="m r" x="214.90" y="242.70" font-size="13.4" textLength="89.00" lengthAdjust="spacingAndGlyphs">neutrino, NV</text>
<text class="m g" x="214.90" y="259.10" font-size="13.4" textLength="89.00" lengthAdjust="spacingAndGlyphs">neutrino, Fe</text>
<text class="m b" x="214.90" y="275.30" font-size="13.4" textLength="81.50" lengthAdjust="spacingAndGlyphs">no neutrino</text>
</svg>
</body></html>
